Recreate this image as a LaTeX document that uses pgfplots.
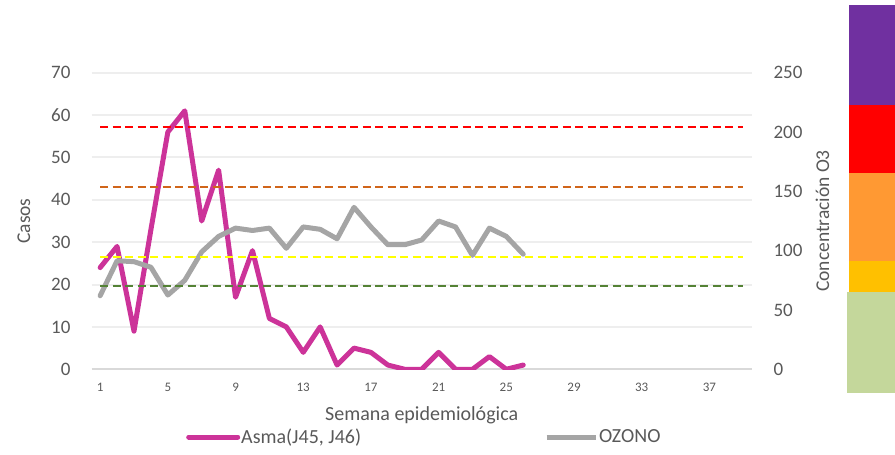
\documentclass[border=0pt]{standalone}
\usepackage{fontspec}
\setmainfont{Carlito}
\usepackage{pgfplots}
\pgfplotsset{compat=1.18}
\definecolor{asma}{HTML}{CC3399}
\definecolor{ozono}{HTML}{A5A5A5}
\definecolor{txt}{HTML}{595959}
\definecolor{gridc}{HTML}{EEEEEE}
\definecolor{basec}{HTML}{D9D9D9}
\definecolor{lred}{HTML}{FF0000}
\definecolor{lorange}{HTML}{D0651A}
\definecolor{lyellow}{HTML}{FFFF00}
\definecolor{lgreen}{HTML}{548235}
\definecolor{bpurple}{HTML}{7030A0}
\definecolor{bred}{HTML}{FF0000}
\definecolor{borange}{HTML}{FF9933}
\definecolor{byellow}{HTML}{FFC000}
\definecolor{bgreen}{HTML}{C4D79B}
\begin{document}
\begin{tikzpicture}
\useasboundingbox (0pt,0pt) rectangle (895pt,455pt);
% colour scale on the right
\fill[bpurple] (849pt,450pt) rectangle (895pt,350pt);
\fill[bred] (849pt,350pt) rectangle (895pt,282.3pt);
\fill[borange] (849pt,282.3pt) rectangle (895pt,194.3pt);
\fill[byellow] (849pt,194.3pt) rectangle (895pt,163.3pt);
\fill[bgreen] (847pt,163.3pt) rectangle (895pt,62.3pt);
\begin{axis}[
  at={(91.7pt,85.7pt)}, anchor=south west,
  scale only axis, width=660pt, height=296.6pt,
  xmin=0.5, xmax=39.5, ymin=0, ymax=70,
  xtick={1,5,...,37}, ytick={0,10,...,70},
  major tick length=0pt,
  /pgf/number format/assume math mode=true,
  axis x line*=bottom, axis y line*=left,
  x axis line style={draw=basec, line width=2pt},
  y axis line style={draw=none},
  ymajorgrids, grid style={draw=gridc, line width=2pt},
  yticklabel style={font=\fontsize{19}{22}\selectfont, color=txt, inner sep=0pt, anchor=east, xshift=-21pt},
  xticklabel style={font=\fontsize{13}{15}\selectfont, color=txt, inner sep=0pt, anchor=north, yshift=-14pt},
  ylabel={Casos},
  every axis y label/.style={at={(axis description cs:-0.1026,0.5)}, rotate=90, anchor=center, font=\fontsize{19.5}{22}\selectfont, color=txt},
  xlabel={Semana epidemiológica},
  every axis x label/.style={at={(axis description cs:0.5,-0.154)}, anchor=center, font=\fontsize{20}{22}\selectfont, color=txt},
  legend columns=2,
  legend style={at={(axis description cs:0.1429,-0.2283)}, anchor=west, draw=none, fill=none,
    font=\fontsize{20}{22}\selectfont, text=txt, inner sep=0pt,
    /tikz/every even column/.append style={column sep=182pt},
    nodes={inner xsep=1pt}},
  legend image code/.code={\draw[#1] (0pt,0pt) -- (49pt,0pt);},
]
\addplot[asma, line width=5pt, line join=round, line cap=round] coordinates {
(1,24) (2,29) (3,9) (4,33) (5,56) (6,61) (7,35) (8,47) (9,17) (10,28)
(11,12) (12,10) (13,4) (14,10) (15,1) (16,5) (17,4) (18,1) (19,0) (20,0)
(21,4) (22,0) (23,0) (24,3) (25,0) (26,1)};
\addlegendentry{Asma(J45, J46)}
\addlegendimage{ozono, line width=5pt}
\addlegendentry{OZONO}
\end{axis}
\begin{axis}[
  at={(91.7pt,85.7pt)}, anchor=south west,
  scale only axis, width=660pt, height=296.6pt,
  xmin=0.5, xmax=39.5, ymin=0, ymax=250,
  ytick={0,50,...,250},
  major tick length=0pt,
  /pgf/number format/assume math mode=true,
  axis x line=none, axis y line*=right,
  y axis line style={draw=none},
  yticklabel style={font=\fontsize{19}{22}\selectfont, color=txt, inner sep=0pt, anchor=west, xshift=21.6pt},
  ylabel={Concentración O3},
  every axis y label/.style={at={(axis description cs:1.1073,0.5)}, rotate=90, anchor=center, font=\fontsize{19.5}{22}\selectfont, color=txt},
]
\addplot[ozono, line width=5pt, line join=round, line cap=round] coordinates {
(1,62) (2,91.5) (3,90.7) (4,86) (5,62.6) (6,75) (7,99) (8,112) (9,119) (10,117)
(11,119) (12,102) (13,120) (14,118) (15,110) (16,136.5) (17,120) (18,105) (19,105) (20,109)
(21,125) (22,120) (23,96) (24,119) (25,112) (26,97)};
\addplot[lred, line width=2pt, dash pattern=on 8pt off 4.5pt] coordinates {(1,204) (39,204)};
\addplot[lorange, line width=2pt, dash pattern=on 8pt off 4.5pt] coordinates {(1,154) (39,154)};
\addplot[lyellow, line width=2pt, dash pattern=on 8pt off 4.5pt] coordinates {(1,95) (39,95)};
\addplot[lgreen, line width=2pt, dash pattern=on 8pt off 4.5pt] coordinates {(1,70) (39,70)};
\end{axis}
\end{tikzpicture}
\end{document}
